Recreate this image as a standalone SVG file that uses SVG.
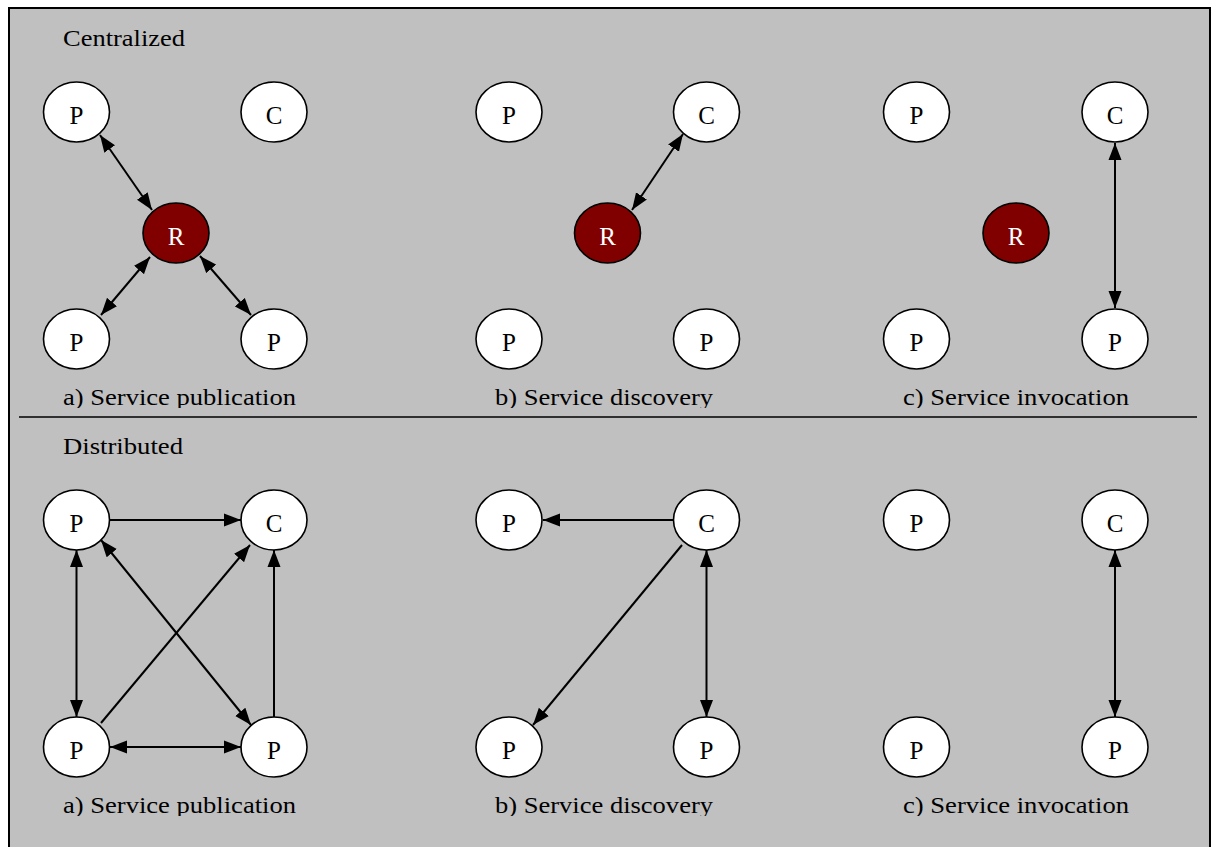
<svg xmlns="http://www.w3.org/2000/svg" width="1212" height="847" viewBox="0 0 1212 847">
  <style>
    .node { fill: #ffffff; stroke: #000000; stroke-width: 1.6; }
    .reg { fill: #800000; stroke: #000000; stroke-width: 1.6; }
    .lbl { font-family: "Liberation Serif", "Times New Roman", serif; font-size: 25px; fill: #000000; text-anchor: middle; }
    .lbl.w { fill: #ffffff; }
    .cap { font-family: "Liberation Serif", "Times New Roman", serif; font-size: 24px; fill: #000000; }
    .edge { stroke: #000000; stroke-width: 2; fill: none; }
    .both { marker-start: url(#ah); marker-end: url(#ah); }
    .one { marker-end: url(#ah); }
  </style>
  <defs>
    <marker id="ah" markerUnits="userSpaceOnUse" markerWidth="18" markerHeight="14" refX="17" refY="7" orient="auto-start-reverse">
      <path d="M0,0.5 L17,7 L0,13.5 z" fill="#000000"/>
    </marker>
    <clipPath id="clipTop"><rect x="0" y="0" width="1212" height="408"/></clipPath>
    <clipPath id="clipBot"><rect x="0" y="420" width="1212" height="396"/></clipPath>
  </defs>

  <!-- frame and divider -->
  <rect x="9" y="8" width="1201" height="850" fill="#c0c0c0" stroke="#000000" stroke-width="2"/>
  <line x1="19" y1="417" x2="1197" y2="417" stroke="#000000" stroke-width="1.6"/>

  <!-- section captions -->
  <text class="cap" x="63" y="46" textLength="122" lengthAdjust="spacingAndGlyphs">Centralized</text>
  <text class="cap" x="63" y="454" textLength="120" lengthAdjust="spacingAndGlyphs">Distributed</text>

  <g id="captions-top" clip-path="url(#clipTop)">
    <text class="cap" x="63" y="405" textLength="233" lengthAdjust="spacingAndGlyphs">a) Service publication</text>
    <text class="cap" x="495" y="405" textLength="218" lengthAdjust="spacingAndGlyphs">b) Service discovery</text>
    <text class="cap" x="903" y="405" textLength="226" lengthAdjust="spacingAndGlyphs">c) Service invocation</text>
  </g>
  <g id="captions-bottom" clip-path="url(#clipBot)">
    <text class="cap" x="63" y="813" textLength="233" lengthAdjust="spacingAndGlyphs">a) Service publication</text>
    <text class="cap" x="495" y="813" textLength="218" lengthAdjust="spacingAndGlyphs">b) Service discovery</text>
    <text class="cap" x="903" y="813" textLength="226" lengthAdjust="spacingAndGlyphs">c) Service invocation</text>
  </g>

  <!-- connectors -->
  <g id="connectors">
    <!-- centralized a -->
    <line class="edge both" x1="100" y1="135" x2="152" y2="210"/>
    <line class="edge both" x1="150" y1="257" x2="101" y2="315"/>
    <line class="edge both" x1="200" y1="256" x2="251" y2="315"/>
    <!-- centralized b -->
    <line class="edge both" x1="632" y1="210" x2="683" y2="134"/>
    <!-- centralized c -->
    <line class="edge both" x1="1115" y1="143" x2="1115" y2="308"/>
    <!-- distributed a -->
    <line class="edge one" x1="110" y1="520" x2="241" y2="520"/>
    <line class="edge both" x1="76.5" y1="550" x2="76.5" y2="717"/>
    <line class="edge both" x1="110" y1="747" x2="241" y2="747"/>
    <line class="edge one" x1="274" y1="717" x2="274" y2="550"/>
    <line class="edge one" x1="101" y1="723" x2="250" y2="545"/>
    <line class="edge both" x1="101" y1="540" x2="251" y2="725"/>
    <!-- distributed b -->
    <line class="edge one" x1="673" y1="520" x2="543" y2="520"/>
    <line class="edge one" x1="682" y1="545" x2="533" y2="725"/>
    <line class="edge both" x1="706.5" y1="550" x2="706.5" y2="717"/>
    <!-- distributed c -->
    <line class="edge both" x1="1115" y1="550" x2="1115" y2="717"/>
  </g>

  <!-- centralized a -->
  <g id="ca-p1"><ellipse class="node" cx="76.5" cy="112" rx="33" ry="30"/><text class="lbl" x="76.5" y="124">P</text></g>
  <g id="ca-c"><ellipse class="node" cx="274" cy="112" rx="33" ry="30"/><text class="lbl" x="274" y="124">C</text></g>
  <g id="ca-r"><ellipse class="reg" cx="176" cy="233" rx="33" ry="30"/><text class="lbl w" x="176" y="245">R</text></g>
  <g id="ca-p2"><ellipse class="node" cx="76.5" cy="339" rx="33" ry="30"/><text class="lbl" x="76.5" y="351">P</text></g>
  <g id="ca-p3"><ellipse class="node" cx="274" cy="339" rx="33" ry="30"/><text class="lbl" x="274" y="351">P</text></g>

  <!-- centralized b -->
  <g id="cb-p1"><ellipse class="node" cx="509" cy="112" rx="33" ry="30"/><text class="lbl" x="509" y="124">P</text></g>
  <g id="cb-c"><ellipse class="node" cx="706.5" cy="112" rx="33" ry="30"/><text class="lbl" x="706.5" y="124">C</text></g>
  <g id="cb-r"><ellipse class="reg" cx="607.5" cy="233" rx="33" ry="30"/><text class="lbl w" x="607.5" y="245">R</text></g>
  <g id="cb-p2"><ellipse class="node" cx="509" cy="339" rx="33" ry="30"/><text class="lbl" x="509" y="351">P</text></g>
  <g id="cb-p3"><ellipse class="node" cx="706.5" cy="339" rx="33" ry="30"/><text class="lbl" x="706.5" y="351">P</text></g>

  <!-- centralized c -->
  <g id="cc-p1"><ellipse class="node" cx="916.5" cy="112" rx="33" ry="30"/><text class="lbl" x="916.5" y="124">P</text></g>
  <g id="cc-c"><ellipse class="node" cx="1115" cy="112" rx="33" ry="30"/><text class="lbl" x="1115" y="124">C</text></g>
  <g id="cc-r"><ellipse class="reg" cx="1016" cy="233" rx="33" ry="30"/><text class="lbl w" x="1016" y="245">R</text></g>
  <g id="cc-p2"><ellipse class="node" cx="916.5" cy="339" rx="33" ry="30"/><text class="lbl" x="916.5" y="351">P</text></g>
  <g id="cc-p3"><ellipse class="node" cx="1115" cy="339" rx="33" ry="30"/><text class="lbl" x="1115" y="351">P</text></g>

  <!-- distributed a -->
  <g id="da-p1"><ellipse class="node" cx="76.5" cy="520" rx="33" ry="30"/><text class="lbl" x="76.5" y="532">P</text></g>
  <g id="da-c"><ellipse class="node" cx="274" cy="520" rx="33" ry="30"/><text class="lbl" x="274" y="532">C</text></g>
  <g id="da-p2"><ellipse class="node" cx="76.5" cy="747" rx="33" ry="30"/><text class="lbl" x="76.5" y="759">P</text></g>
  <g id="da-p3"><ellipse class="node" cx="274" cy="747" rx="33" ry="30"/><text class="lbl" x="274" y="759">P</text></g>

  <!-- distributed b -->
  <g id="db-p1"><ellipse class="node" cx="509" cy="520" rx="33" ry="30"/><text class="lbl" x="509" y="532">P</text></g>
  <g id="db-c"><ellipse class="node" cx="706.5" cy="520" rx="33" ry="30"/><text class="lbl" x="706.5" y="532">C</text></g>
  <g id="db-p2"><ellipse class="node" cx="509" cy="747" rx="33" ry="30"/><text class="lbl" x="509" y="759">P</text></g>
  <g id="db-p3"><ellipse class="node" cx="706.5" cy="747" rx="33" ry="30"/><text class="lbl" x="706.5" y="759">P</text></g>

  <!-- distributed c -->
  <g id="dc-p1"><ellipse class="node" cx="916.5" cy="520" rx="33" ry="30"/><text class="lbl" x="916.5" y="532">P</text></g>
  <g id="dc-c"><ellipse class="node" cx="1115" cy="520" rx="33" ry="30"/><text class="lbl" x="1115" y="532">C</text></g>
  <g id="dc-p2"><ellipse class="node" cx="916.5" cy="747" rx="33" ry="30"/><text class="lbl" x="916.5" y="759">P</text></g>
  <g id="dc-p3"><ellipse class="node" cx="1115" cy="747" rx="33" ry="30"/><text class="lbl" x="1115" y="759">P</text></g>
</svg>
